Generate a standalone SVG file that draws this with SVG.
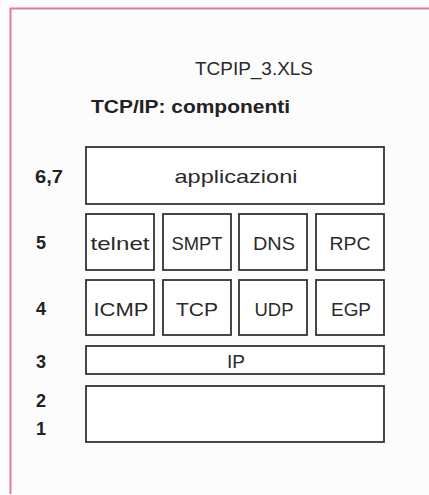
<svg xmlns="http://www.w3.org/2000/svg" width="429" height="495" viewBox="0 0 429 495">
<style>
.box{fill:#fff;stroke:#333;stroke-width:1.8}
.t{font-family:"Liberation Sans",Arial,sans-serif;font-size:19px;fill:#2a2a2a;text-anchor:middle}
.n{font-family:"Liberation Sans",Arial,sans-serif;font-size:18px;font-weight:bold;fill:#222}
</style>
<rect width="429" height="495" fill="#fdfcfc"/>
<path d="M10.5,494 V8.5 H429" fill="none" stroke="#e27b93" stroke-width="2"/>
<text x="254" y="75" class="t" font-size="20" textLength="118" lengthAdjust="spacingAndGlyphs">TCPIP_3.XLS</text>
<text x="91" y="113" class="n" font-size="20" textLength="199" lengthAdjust="spacingAndGlyphs">TCP/IP: componenti</text>
<g id="labels">
<text x="35" y="183" class="n" textLength="28" lengthAdjust="spacingAndGlyphs">6,7</text>
<text x="36" y="249" class="n">5</text>
<text x="36" y="315" class="n">4</text>
<text x="36" y="368" class="n">3</text>
<text x="36" y="407" class="n">2</text>
<text x="36" y="435" class="n">1</text>
</g>
<g id="applicazioni"><rect class="box" x="86" y="147" width="298" height="57"/><text x="236" y="183" class="t" font-size="20" textLength="123" lengthAdjust="spacingAndGlyphs">applicazioni</text></g>
<g id="telnet"><rect class="box" x="86" y="214" width="68" height="56"/><text x="120" y="250" class="t" textLength="59" lengthAdjust="spacingAndGlyphs">telnet</text></g>
<g id="smpt"><rect class="box" x="163" y="214" width="68" height="56"/><text x="197" y="250" class="t" textLength="51" lengthAdjust="spacingAndGlyphs">SMPT</text></g>
<g id="dns"><rect class="box" x="239" y="214" width="68" height="56"/><text x="274" y="250" class="t" textLength="42" lengthAdjust="spacingAndGlyphs">DNS</text></g>
<g id="rpc"><rect class="box" x="316" y="214" width="68" height="56"/><text x="350" y="250" class="t" textLength="41" lengthAdjust="spacingAndGlyphs">RPC</text></g>
<g id="icmp"><rect class="box" x="86" y="280" width="68" height="55"/><text x="121" y="316" class="t" textLength="55" lengthAdjust="spacingAndGlyphs">ICMP</text></g>
<g id="tcp"><rect class="box" x="163" y="280" width="68" height="55"/><text x="197" y="316" class="t" textLength="42" lengthAdjust="spacingAndGlyphs">TCP</text></g>
<g id="udp"><rect class="box" x="239" y="280" width="68" height="55"/><text x="274" y="316" class="t" textLength="39" lengthAdjust="spacingAndGlyphs">UDP</text></g>
<g id="egp"><rect class="box" x="316" y="280" width="68" height="55"/><text x="351" y="316" class="t" textLength="40" lengthAdjust="spacingAndGlyphs">EGP</text></g>
<g id="ip"><rect class="box" x="86" y="346" width="298" height="28"/><text x="236" y="368" class="t" textLength="18" lengthAdjust="spacingAndGlyphs">IP</text></g>
<g id="layer12"><rect class="box" x="86" y="386" width="298" height="56"/></g>
<g id="connectors"/>
</svg>
